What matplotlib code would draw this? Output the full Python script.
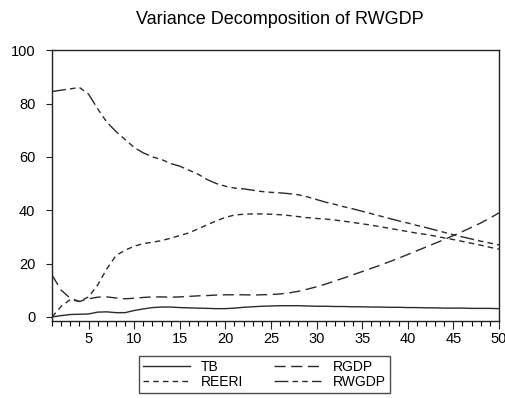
import matplotlib
matplotlib.use("Agg")
import matplotlib.pyplot as plt
from matplotlib.ticker import MultipleLocator

plt.rcParams['font.family'] = ['Liberation Sans', 'DejaVu Sans']

periods = list(range(1, 51))

tb = [0.0, 0.5, 0.9, 1.0, 1.1, 1.8, 1.9, 1.6, 1.6, 2.4,
      3.0, 3.5, 3.7, 3.7, 3.5, 3.4, 3.3, 3.2, 3.1, 3.1,
      3.3, 3.6, 3.8, 4.0, 4.1, 4.2, 4.2, 4.2, 4.1, 4.0,
      4.0, 3.9, 3.9, 3.8, 3.8, 3.7, 3.7, 3.6, 3.6, 3.5,
      3.5, 3.4, 3.4, 3.3, 3.3, 3.3, 3.2, 3.2, 3.2, 3.1]

reeri = [0.0, 4.0, 6.5, 5.8, 7.5, 12.0, 18.0, 23.0, 25.0, 26.5,
         27.5, 28.0, 28.6, 29.5, 30.5, 31.5, 33.0, 34.5, 36.0, 37.3,
         38.2, 38.5, 38.6, 38.6, 38.5, 38.3, 38.0, 37.6, 37.2, 36.9,
         36.7, 36.3, 35.9, 35.4, 34.9, 34.4, 33.8, 33.2, 32.6, 32.0,
         31.4, 30.9, 30.3, 29.6, 29.0, 28.3, 27.6, 26.9, 26.1, 25.4]

rgdp = [15.6, 10.0, 7.0, 5.8, 6.8, 7.4, 7.5, 7.1, 6.8, 7.0,
        7.3, 7.5, 7.5, 7.4, 7.5, 7.7, 7.9, 8.0, 8.2, 8.3,
        8.3, 8.3, 8.2, 8.3, 8.4, 8.6, 9.0, 9.6, 10.4, 11.3,
        12.3, 13.5, 14.6, 15.8, 17.0, 18.2, 19.4, 20.7, 22.0, 23.4,
        24.8, 26.2, 27.6, 29.0, 30.5, 32.0, 33.6, 35.2, 37.0, 39.0]

rwgdp = [84.5, 85.0, 85.5, 86.0, 83.5, 78.0, 73.0, 69.5, 66.5, 63.5,
         61.5, 60.0, 59.0, 57.5, 56.5, 55.0, 53.5, 51.5, 50.0, 49.0,
         48.3, 48.0, 47.5, 47.0, 46.7, 46.5, 46.2, 45.8, 45.0, 44.0,
         43.0, 42.2, 41.3, 40.5, 39.6, 38.7, 37.8, 36.9, 36.0, 35.2,
         34.3, 33.5, 32.6, 31.7, 30.8, 30.0, 29.2, 28.4, 27.7, 27.0]

fig = plt.figure(figsize=(5.06, 3.98), dpi=100)
ax = fig.add_axes([0.103, 0.193, 0.883, 0.681])

lc = '#2a2a2a'
ax.plot(periods, tb, color=lc, lw=1.0, ls='-', label='TB')
ax.plot(periods, reeri, color=lc, lw=1.0, ls=(0, (4, 3)), label='REERI')
ax.plot(periods, rgdp, color=lc, lw=1.0, ls=(0, (8, 4)), label='RGDP')
ax.plot(periods, rwgdp, color=lc, lw=1.0, ls=(0, (10, 3, 4, 3, 4, 3)), label='RWGDP')

ax.set_xlim(1, 50)
ax.set_ylim(-1.6, 100)
ax.set_xticks(range(5, 51, 5))
ax.xaxis.set_minor_locator(MultipleLocator(1))
ax.set_yticks(range(0, 101, 20))
ax.tick_params(axis='both', direction='out', labelsize=10.5, color='#222222')
ax.tick_params(axis='x', which='major', length=6, width=0.8, pad=2)
ax.tick_params(axis='x', which='minor', length=3.5, width=0.8)
ax.tick_params(axis='y', length=4, width=0.8, pad=8)
for s in ax.spines.values():
    s.set_linewidth(1.0)
    s.set_color('#222222')

fig.text(0.553, 0.951, 'Variance Decomposition of RWGDP', ha='center', va='center', fontsize=13)

fig.legend(loc='center', bbox_to_anchor=(0.522, 0.059), ncol=2, fontsize=10,
           frameon=True, fancybox=False, edgecolor='#222222', handlelength=3.4,
           columnspacing=2.2, borderpad=0.3, labelspacing=0.1, handletextpad=0.8)

fig.savefig('out.png', dpi=100)
